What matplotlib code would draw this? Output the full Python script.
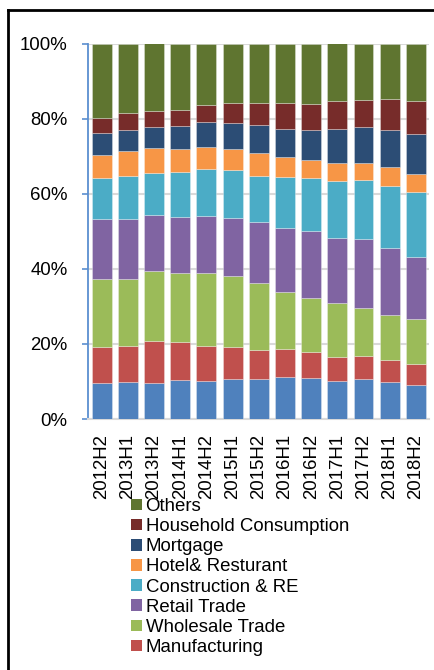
import matplotlib
matplotlib.use("Agg")
import matplotlib.pyplot as plt
from matplotlib.patches import Patch
from matplotlib.lines import Line2D
import numpy as np

plt.rcParams['font.family'] = ['Liberation Sans', 'DejaVu Sans']

periods = ["2012H2", "2013H1", "2013H2", "2014H1", "2014H2", "2015H1", "2015H2",
           "2016H1", "2016H2", "2017H1", "2017H2", "2018H1", "2018H2"]

other_sector = [9.7, 9.9, 9.7, 10.4, 10.0, 10.7, 10.6, 11.1, 10.8, 10.2, 10.6, 9.8, 9.1]
manufacturing = [9.6, 9.5, 11.2, 10.2, 9.5, 8.6, 7.9, 7.5, 7.1, 6.4, 6.3, 5.8, 5.5]
wholesale = [18.0, 18.0, 18.4, 18.3, 19.5, 18.7, 17.7, 15.3, 14.4, 14.2, 12.7, 12.0, 12.0]
retail = [16.0, 15.9, 15.1, 15.0, 15.1, 15.6, 16.2, 17.0, 17.8, 17.5, 18.3, 17.9, 16.6]
construction = [11.0, 11.5, 11.2, 12.0, 12.6, 12.8, 12.4, 13.5, 14.0, 15.2, 15.7, 16.6, 17.3]
hotel = [5.9, 6.7, 6.5, 6.1, 5.8, 5.5, 6.0, 5.5, 4.9, 4.7, 4.6, 5.0, 4.8]
mortgage = [5.9, 5.4, 5.6, 5.9, 6.5, 6.8, 7.6, 7.2, 8.0, 8.9, 9.5, 9.9, 10.5]
household = [4.1, 4.5, 4.4, 4.3, 4.6, 5.4, 5.7, 7.0, 7.0, 7.5, 7.2, 8.1, 8.8]
others = [19.8, 18.6, 18.1, 17.8, 16.4, 15.9, 15.9, 15.9, 15.8, 15.4, 15.1, 14.9, 15.4]

series_names = ["", "Manufacturing", "Wholesale Trade", "Retail Trade", "Construction & RE",
                "Hotel& Resturant", "Mortgage", "Household Consumption", "Others"]
series_values = [other_sector, manufacturing, wholesale, retail, construction,
                 hotel, mortgage, household, others]
colors = ["#4F81BD", "#C0504D", "#9BBB59", "#8064A2", "#4BACC6",
          "#F79646", "#2C4D75", "#772C2A", "#5F7530"]

FS = 13.4
W, H = 435, 670
fig = plt.figure(figsize=(W / 100, H / 100), dpi=100)
ax = fig.add_axes([88.5 / W, 251 / H, (429 - 88.5) / W, (419 - 43.5) / H])

x = np.arange(len(periods))
bottom = np.zeros(len(periods))
for vals, col in zip(series_values, colors):
    v = np.array(vals, dtype=float)
    ax.bar(x, v, bottom=bottom, width=0.76, color=col,
           edgecolor=(1, 1, 1, 0.35), linewidth=0.6, zorder=3)
    bottom += v

ax.set_xlim(-0.5, len(periods) - 0.5)
ax.set_ylim(0, 100)
ax.set_yticks([0, 20, 40, 60, 80, 100])
ax.set_yticklabels(["0%", "20%", "40%", "60%", "80%", "100%"], fontsize=FS)
ax.set_xticks(x)
ax.set_xticklabels(periods, rotation=90, fontsize=FS, va="top", ha="center")
ax.tick_params(axis="x", length=0, pad=11)
ax.tick_params(axis="y", length=4, width=1.2, color="#5B8FD0", pad=11, direction="out")
ax.grid(axis="y", color="#D9D9D9", linewidth=1.5, zorder=0)
for s in ["top", "right"]:
    ax.spines[s].set_visible(False)
ax.spines["left"].set_color("#5B8FD0")
ax.spines["left"].set_linewidth(1.3)
ax.spines["bottom"].set_color("#D9D9D9")
ax.spines["bottom"].set_linewidth(1.5)

handles = [Patch(facecolor=c, edgecolor="none") for c in colors[1:]][::-1]
labels = series_names[1:][::-1]
fig.legend(handles, labels, loc="upper left", bbox_to_anchor=(131 / W, 1 - 498 / H),
           frameon=False, fontsize=FS, handlelength=0.58, handleheight=0.58,
           handletextpad=0.2, labelspacing=0.17, borderpad=0, borderaxespad=0)

fig.add_artist(Line2D([8 / W, 8 / W], [0, 1 - 10 / H], color="black", linewidth=2,
                      transform=fig.transFigure))
fig.add_artist(Line2D([8 / W, 1], [1 - 10 / H, 1 - 10 / H], color="black", linewidth=2,
                      transform=fig.transFigure))

fig.savefig("out.png", dpi=100)
